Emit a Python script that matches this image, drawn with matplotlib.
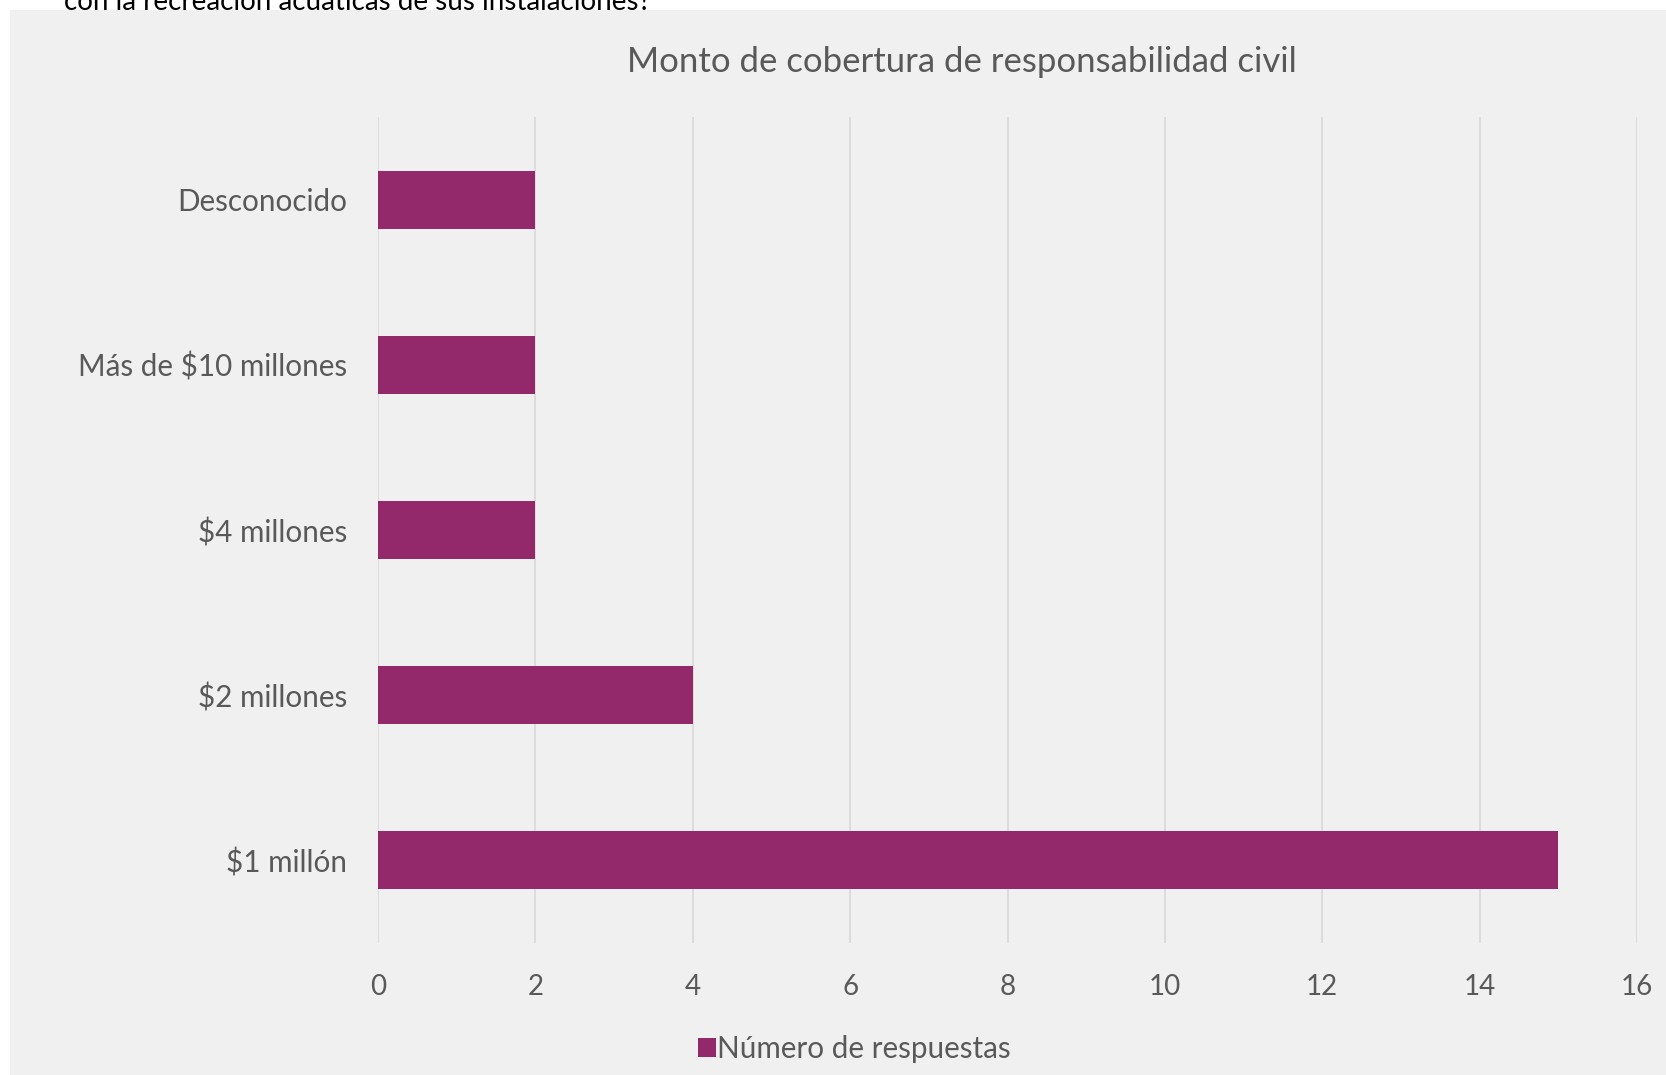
import matplotlib
matplotlib.use("Agg")
import matplotlib.pyplot as plt
from matplotlib.patches import Rectangle

# Coverage amounts (bottom to top) and number of responses
categorias = ["$1 millón", "$2 millones", "$4 millones", "Más de $10 millones", "Desconocido"]
respuestas = [15, 4, 2, 2, 2]
ticks_x = [0, 2, 4, 6, 8, 10, 12, 14, 16]

titulo = "Monto de cobertura de responsabilidad civil"
serie = "Número de respuestas"
pregunta = "con la recreación acuáticas de sus instalaciones?"

BAR = "#93296a"
TEXT = "#595959"
PANEL = "#f0f0f0"
GRID = "#d9d9d9"

plt.rcParams["font.family"] = ["Lato", "DejaVu Sans"]

W, H = 1666, 1075
fig = plt.figure(figsize=(W / 100, H / 100), dpi=100, facecolor="white")

# chart panel behind everything else
fig.patches.append(Rectangle((10 / W, 0), 1 - 10 / W, 1 - 10 / H,
                             transform=fig.transFigure, facecolor=PANEL,
                             edgecolor="none", zorder=-10))

# leftover line of the question text above the panel
fig.text(64 / W, 1 - 10 / H, pregunta, ha="left", va="baseline",
         fontsize=20, color="black", zorder=-5)

ax = fig.add_axes([378 / W, 1 - 943 / H, (1637 - 378) / W, (943 - 117) / H])
ax.set_facecolor("none")
ax.set_zorder(1)

bars = ax.barh(categorias, respuestas, height=0.35, color=BAR, label=serie, zorder=3)

ax.set_xlim(0, 16)
ax.set_ylim(-0.5, len(categorias) - 0.5)
ax.set_xticks(ticks_x)
ax.set_xticklabels([str(t) for t in ticks_x])
ax.xaxis.grid(True, color=GRID, linewidth=1.2, zorder=0)
ax.yaxis.grid(False)
ax.set_axisbelow(True)
for s in ax.spines.values():
    s.set_visible(False)
ax.tick_params(axis="both", length=0, labelcolor=TEXT)
ax.tick_params(axis="x", pad=22, labelsize=20)
ax.tick_params(axis="y", pad=22, labelsize=21.3)

fig.text(962 / W, 1 - 62 / H, titulo, ha="center", va="center",
         fontsize=25, color=TEXT)

leg = ax.legend(handles=[bars], labels=[serie], loc="center left",
                bbox_to_anchor=(698 / W, 1 - 1049 / H), bbox_transform=fig.transFigure,
                frameon=False, fontsize=21.3, handlelength=0.62, handleheight=0.62,
                handletextpad=0.02, labelcolor=TEXT, borderpad=0, borderaxespad=0)

fig.savefig("out.png", dpi=100, facecolor="white")
